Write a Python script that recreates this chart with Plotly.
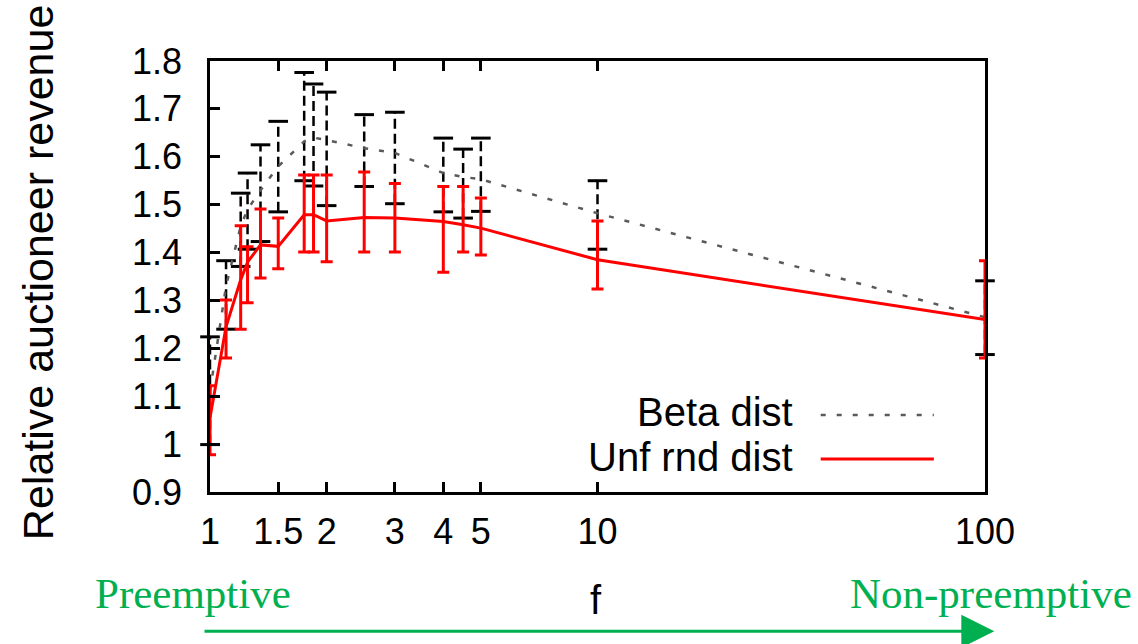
import plotly.graph_objects as go

# ---- data ----
f_values = [1, 1.1, 1.2, 1.25, 1.35, 1.5, 1.75, 1.85, 2, 2.5, 3, 4, 4.5, 5, 10, 100]

beta_mean = [1.11, 1.33, 1.455, 1.49, 1.53, 1.58, 1.632, 1.64, 1.635, 1.618, 1.608, 1.566, 1.558, 1.553, 1.482, 1.265]
beta_high = [1.224, 1.383, 1.524, 1.566, 1.625, 1.674, 1.776, 1.752, 1.735, 1.688, 1.693, 1.639, 1.616, 1.639, 1.55, 1.341]
beta_low = [0.999, 1.240, 1.371, 1.407, 1.423, 1.485, 1.55, 1.539, 1.498, 1.538, 1.502, 1.485, 1.472, 1.486, 1.407, 1.187]

unf_mean = [1.055, 1.245, 1.343, 1.38, 1.416, 1.413, 1.479, 1.479, 1.466, 1.473, 1.472, 1.465, 1.458, 1.451, 1.385, 1.26]
unf_high = [1.122, 1.301, 1.456, 1.412, 1.491, 1.472, 1.562, 1.562, 1.562, 1.568, 1.544, 1.538, 1.538, 1.514, 1.466, 1.383]
unf_low = [0.978, 1.180, 1.240, 1.295, 1.347, 1.366, 1.401, 1.401, 1.381, 1.401, 1.401, 1.359, 1.401, 1.395, 1.324, 1.18]

x_tick_vals = [1, 1.5, 2, 3, 4, 5, 10, 100]
x_tick_text = ["1", "1.5", "2", "3", "4", "5", "10", "100"]
y_tick_vals = [0.9, 1.0, 1.1, 1.2, 1.3, 1.4, 1.5, 1.6, 1.7, 1.8]
y_tick_text = ["0.9", "1", "1.1", "1.2", "1.3", "1.4", "1.5", "1.6", "1.7", "1.8"]

series_names = ["Beta dist", "Unf rnd dist"]

SANS = "Liberation Sans, Arial, sans-serif"
SERIF = "Liberation Serif, Times New Roman, serif"
GREEN = "#00b050"
BETA_COLOR = "#5a5a5a"
BETA_DASH = "5px,11px"

fig = go.Figure()

# Beta: dashed black error bars
seg_x, seg_y = [], []
for fx, lo, hi in zip(f_values, beta_low, beta_high):
    seg_x += [fx, fx, None]
    seg_y += [lo, hi, None]
fig.add_trace(go.Scatter(x=seg_x, y=seg_y, mode="lines",
                         line=dict(color="black", width=2.5, dash="10px,5px"),
                         showlegend=False, hoverinfo="skip"))
fig.add_trace(go.Scatter(x=f_values + f_values, y=beta_high + beta_low, mode="markers",
                         marker=dict(symbol="line-ew", size=14, line=dict(color="black", width=3)),
                         showlegend=False, hoverinfo="skip", cliponaxis=False))
# Beta line (dotted gray)
fig.add_trace(go.Scatter(x=f_values, y=beta_mean, mode="lines", name=series_names[0],
                         line=dict(color=BETA_COLOR, width=2.5, dash=BETA_DASH),
                         showlegend=False))

# Unf rnd: red line with error bars
unf_plus = [h - m for h, m in zip(unf_high, unf_mean)]
unf_minus = [m - l for m, l in zip(unf_mean, unf_low)]
fig.add_trace(go.Scatter(x=f_values, y=unf_mean, mode="lines", name=series_names[1],
                         line=dict(color="#ff0000", width=3),
                         error_y=dict(type="data", array=unf_plus, arrayminus=unf_minus,
                                      color="#ff0000", thickness=3, width=6),
                         showlegend=False, cliponaxis=False))

fig.update_xaxes(type="log", range=[0, 2], tickvals=x_tick_vals, ticktext=x_tick_text,
                 ticks="inside", ticklen=10, tickwidth=2.5, tickcolor="black",
                 showline=True, linecolor="black", linewidth=2.5, mirror="ticks",
                 showgrid=False, zeroline=False, automargin=False,
                 tickfont=dict(family=SANS, size=36, color="black"), ticklabelstandoff=6)
fig.update_yaxes(range=[0.9, 1.8], tickvals=y_tick_vals, ticktext=y_tick_text,
                 ticks="inside", ticklen=10, tickwidth=2.5, tickcolor="black",
                 showline=True, linecolor="black", linewidth=2.5, mirror=True,
                 showgrid=False, zeroline=False, automargin=False,
                 tickfont=dict(family=SANS, size=36, color="black"), ticklabelstandoff=18)

annotations = [
    dict(text="Relative auctioneer revenue", xref="paper", yref="paper", x=-0.222, y=0.51,
         textangle=-90, showarrow=False, font=dict(family=SANS, size=43, color="black"),
         xanchor="center", yanchor="middle"),
    dict(text="f", xref="paper", yref="paper", x=0.498, y=-0.25, showarrow=False,
         font=dict(family=SANS, size=40, color="black"), xanchor="center", yanchor="middle"),
    dict(text="Preemptive", xref="paper", yref="paper", x=-0.022, y=-0.235, showarrow=False,
         font=dict(family=SERIF, size=43, color=GREEN), xanchor="center", yanchor="middle"),
    dict(text="Non-preemptive", xref="paper", yref="paper", x=1.008, y=-0.235, showarrow=False,
         font=dict(family=SERIF, size=43, color=GREEN), xanchor="center", yanchor="middle"),
    dict(text="", xref="x domain", yref="y domain", axref="x domain", ayref="y domain",
         x=1.012, y=-0.323, ax=-0.009, ay=-0.323, showarrow=True,
         arrowhead=2, arrowsize=2.2, arrowwidth=3, arrowcolor=GREEN),
    # legend texts (gnuplot style: text left of sample)
    dict(text=series_names[0], xref="paper", yref="paper", x=0.755, y=0.185, showarrow=False,
         font=dict(family=SANS, size=40, color="black"), xanchor="right", yanchor="middle"),
    dict(text=series_names[1], xref="paper", yref="paper", x=0.755, y=0.082, showarrow=False,
         font=dict(family=SANS, size=40, color="black"), xanchor="right", yanchor="middle"),
]
shapes = [
    dict(type="line", xref="paper", yref="paper", x0=0.788, x1=0.934, y0=0.1787, y1=0.1787,
         line=dict(color=BETA_COLOR, width=2.5, dash=BETA_DASH)),
    dict(type="line", xref="paper", yref="paper", x0=0.788, x1=0.934, y0=0.0766, y1=0.0766,
         line=dict(color="#ff0000", width=3)),
]

fig.update_layout(width=1138, height=644, autosize=False,
                  margin=dict(l=210, r=153, t=61, b=152, pad=0),
                  paper_bgcolor="white", plot_bgcolor="white",
                  annotations=annotations, shapes=shapes, showlegend=False)

fig.write_html("out.html", config={"displayModeBar": False},
               post_script="document.body.style.margin='0';document.body.style.overflow='hidden';")
